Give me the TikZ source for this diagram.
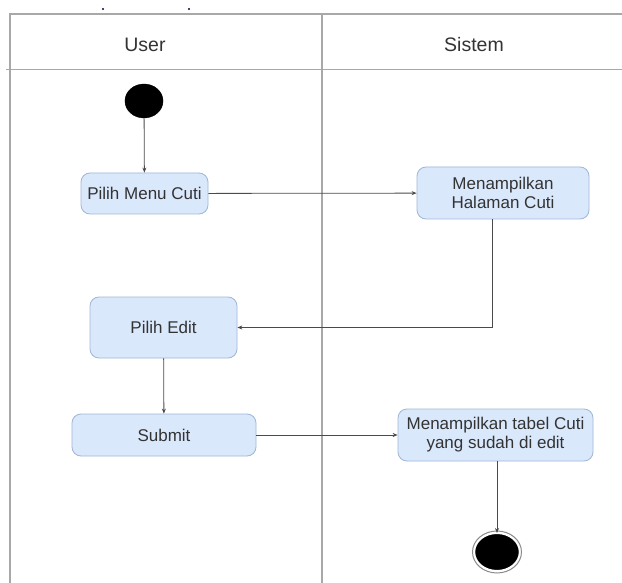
\documentclass[tikz,border=0pt]{standalone}
\usepackage{fontspec}
\setmainfont{Liberation Sans}
\usetikzlibrary{arrows.meta}
\definecolor{boxfill}{HTML}{DAE8FC}
\definecolor{boxline}{HTML}{9FB6D6}
\definecolor{frameline}{HTML}{A8A8A8}
\definecolor{conn}{HTML}{4A4A4A}
\begin{document}
\begin{tikzpicture}[x=1pt,y=-1pt,
  act/.style={draw=boxline, fill=boxfill, rounded corners=9pt, line width=0.8pt,
    inner sep=0pt, align=center, font=\fontsize{17}{19}\selectfont, text=black!80},
  lane/.style={draw=frameline, line width=1.3pt},
  flow/.style={draw=conn, line width=0.8pt, -{Stealth[length=5pt,width=4pt]}},
  hdr/.style={font=\fontsize{19.5}{22}\selectfont, text=black!80}]
\useasboundingbox (0,0) rectangle (622,583);
\fill[white] (0,0) rectangle (622,583);
% swimlane frame
\draw[lane] (10,583) -- (10,14) -- (622,14);
\draw[lane] (6,69.5) -- (622,69.5);
\draw[lane] (322,14) -- (322,583);
\node[hdr] (huser) at (145,45) {User};
\node[hdr] (hsis) at (474,45) {Sistem};
% small dots
\fill[black!70!blue] (103,9) circle (1.2);
\fill[black!70!blue] (189,9) circle (1.2);
% nodes
\node[fill=black, draw=black, circle, minimum size=34pt, inner sep=0pt, xscale=1.12] (start) at (144,101) {};
\node[act, minimum width=127pt, minimum height=41pt] (menu) at (144.5,193.5) {Pilih Menu Cuti};
\node[act, minimum width=172pt, minimum height=52pt] (hal) at (503,193) {Menampilkan\\Halaman Cuti};
\node[act, minimum width=147pt, minimum height=61pt] (edit) at (163.5,327.5) {Pilih Edit};
\node[act, minimum width=184pt, minimum height=42pt] (submit) at (164,435) {Submit};
\node[act, minimum width=195pt, minimum height=52pt] (tabel) at (495.5,435) {Menampilkan tabel Cuti\\yang sudah di edit};
\node[circle, fill=black, draw=white, line width=2pt, minimum size=38pt, inner sep=0pt, xscale=1.2] (end) at (497,552) {};
\draw[black!45, line width=1pt] (end.center) ellipse (24.5 and 21);
% connectors
\draw[flow] (start) -- (menu);
\draw[flow] (menu) -- (hal);
\draw[flow] ([xshift=-11pt]hal.south) |- (edit.east);
\draw[flow] (edit) -- (submit);
\draw[flow] (submit) -- (tabel);
\draw[flow] (end.north |- tabel.south) -- ([yshift=-1pt]end.north);
\end{tikzpicture}
\end{document}
